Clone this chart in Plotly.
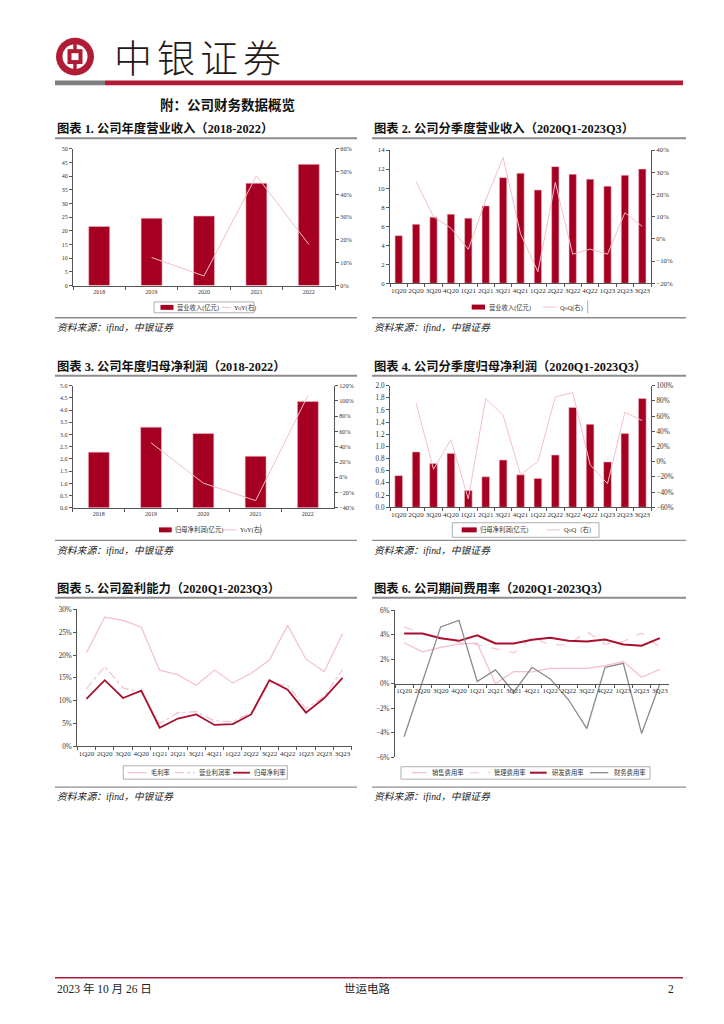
import plotly.graph_objects as go

# The page body has an 8px default margin: the figure is made 8px smaller and
# all positions below are given in page pixels, converted here.
OFF = 8
W, H = 724 - OFF, 1024 - OFF


def X(p):
    return (p - OFF) / W


def Y(p):
    return 1 - (p - OFF) / H


# ---------------- data ----------------
years = ["2018", "2019", "2020", "2021", "2022"]
quarters = ["1Q20", "2Q20", "3Q20", "4Q20", "1Q21", "2Q21", "3Q21", "4Q21",
            "1Q22", "2Q22", "3Q22", "4Q22", "1Q23", "2Q23", "3Q23"]

rev_annual = [21.6, 24.6, 25.4, 37.4, 44.3]
rev_annual_yoy = [None, 12.3, 4.2, 48.1, 18.1]

rev_q = [5.0, 6.2, 6.95, 7.26, 6.84, 8.13, 11.1, 11.56, 9.8, 12.26, 11.46, 10.94, 10.2, 11.35, 12.0]
rev_q_qoq = [None, 25.7, 10.0, 4.8, -4.7, 17.5, 36.6, 2.3, -14.8, 25.4, -6.9, -4.6, -6.9, 11.8, 5.6]

np_annual = [2.28, 3.30, 3.04, 2.11, 4.35]
np_annual_yoy = [None, 45.2, -7.6, -30.5, 107.0]

np_q = [0.52, 0.91, 0.72, 0.886, 0.277, 0.50, 0.777, 0.533, 0.473, 0.859, 1.641, 1.364, 0.745, 1.212, 1.788]
np_q_qoq = [None, 77.0, -10.0, 29.0, -49.0, 83.0, 61.0, -17.0, 0.0, 85.0, 91.0, -4.0, -29.0, 65.0, 54.0]

gross_margin = [20.5, 28.3, 27.6, 26.1, 16.7, 15.7, 13.4, 16.7, 13.9, 16.0, 18.9, 26.5, 19.1, 16.4, 24.7]
op_margin = [12.6, 17.5, 12.8, 11.8, 5.0, 7.4, 7.6, 5.6, 5.4, 7.4, 13.9, 13.4, 8.3, 11.0, 16.8]
net_margin = [10.4, 14.5, 10.6, 12.2, 4.1, 6.1, 7.0, 4.7, 4.9, 7.0, 14.5, 12.4, 7.4, 10.6, 15.0]

sell_ratio = [3.35, 2.62, 2.97, 3.24, 3.32, 0.0, 1.0, 0.97, 1.27, 1.27, 1.27, 1.49, 1.84, 0.54, 1.19]
admin_ratio = [4.65, 4.11, 3.78, 3.38, 3.19, 2.89, 2.54, 3.78, 3.19, 3.19, 4.27, 3.24, 3.46, 4.14, 2.97]
rd_ratio = [4.11, 4.11, 3.73, 3.51, 3.97, 3.30, 3.30, 3.60, 3.76, 3.51, 3.46, 3.62, 3.22, 3.11, 3.73]
fin_ratio = [-4.32, 0.2, 4.65, 5.19, 0.19, 1.14, -0.68, 1.35, 0.4, -1.3, -3.65, 1.35, 1.68, -4.05, 0.0]

# ---------------- styles ----------------
RED = "#A50021"
EDGE = "#F0B8C2"
PINK = "#F4BFC9"
PINK2 = "#F2C3CC"
DARKRED = "#A8102E"
GRAY = "#8A8A8A"
AX = "#555555"
TXT = "#333333"
HEAD_RED = "#B01C35"
SERIF = "Liberation Serif, Noto Sans CJK SC, serif"
CJK = "Noto Sans CJK SC, sans-serif"

fig = go.Figure()

# chart 1
fig.add_trace(go.Bar(x=years, y=rev_annual, width=0.4,
                     marker=dict(color=RED, line=dict(color=EDGE, width=0.6)),
                     xaxis="x", yaxis="y"))
fig.add_trace(go.Scatter(x=years, y=rev_annual_yoy, mode="lines",
                         line=dict(color=PINK, width=1), xaxis="x", yaxis="y7"))
# chart 2
fig.add_trace(go.Bar(x=quarters, y=rev_q, width=0.42,
                     marker=dict(color=RED, line=dict(color=EDGE, width=0.6)),
                     xaxis="x2", yaxis="y2"))
fig.add_trace(go.Scatter(x=quarters, y=rev_q_qoq, mode="lines",
                         line=dict(color=PINK, width=1), xaxis="x2", yaxis="y8"))
# chart 3
fig.add_trace(go.Bar(x=years, y=np_annual, width=0.4,
                     marker=dict(color=RED, line=dict(color=EDGE, width=0.6)),
                     xaxis="x3", yaxis="y3"))
fig.add_trace(go.Scatter(x=years, y=np_annual_yoy, mode="lines",
                         line=dict(color=PINK, width=1), xaxis="x3", yaxis="y9"))
# chart 4
fig.add_trace(go.Bar(x=quarters, y=np_q, width=0.44,
                     marker=dict(color=RED, line=dict(color=EDGE, width=0.6)),
                     xaxis="x4", yaxis="y4"))
fig.add_trace(go.Scatter(x=quarters, y=np_q_qoq, mode="lines",
                         line=dict(color=PINK, width=1), xaxis="x4", yaxis="y10"))
# chart 5
fig.add_trace(go.Scatter(x=quarters, y=gross_margin, mode="lines",
                         line=dict(color=PINK, width=1.2), xaxis="x5", yaxis="y5"))
fig.add_trace(go.Scatter(x=quarters, y=op_margin, mode="lines",
                         line=dict(color=PINK2, width=1.2, dash="dashdot"), xaxis="x5", yaxis="y5"))
fig.add_trace(go.Scatter(x=quarters, y=net_margin, mode="lines",
                         line=dict(color=DARKRED, width=1.8), xaxis="x5", yaxis="y5"))
# chart 6
fig.add_trace(go.Scatter(x=quarters, y=sell_ratio, mode="lines",
                         line=dict(color=PINK, width=1.2), xaxis="x6", yaxis="y6"))
fig.add_trace(go.Scatter(x=quarters, y=admin_ratio, mode="lines",
                         line=dict(color=PINK2, width=1.1, dash="dash"), xaxis="x6", yaxis="y6"))
fig.add_trace(go.Scatter(x=quarters, y=rd_ratio, mode="lines",
                         line=dict(color=DARKRED, width=2), xaxis="x6", yaxis="y6"))
fig.add_trace(go.Scatter(x=quarters, y=fin_ratio, mode="lines",
                         line=dict(color=GRAY, width=1.3), xaxis="x6", yaxis="y6"))


def xax(x0, x1, anchor, n, size, **kw):
    d = dict(domain=[X(x0), X(x1)], anchor=anchor, type="category",
             range=[-0.5, n - 0.5], showline=True, linecolor=AX, linewidth=1,
             ticks="outside", tickson="boundaries", ticklen=3, tickcolor=AX,
             tickangle=0, tickmode="linear", tick0=0, dtick=1,
             tickfont=dict(family=SERIF, size=size, color=TXT),
             showgrid=False, zeroline=False, fixedrange=True)
    d.update(kw)
    return d


def yax(top, bottom, anchor, rng, dtick, size, side="left", overlaying=None,
        suffix="", fmt=None):
    d = dict(domain=[Y(bottom), Y(top)], anchor=anchor, range=rng, dtick=dtick,
             tick0=rng[0], side=side, showline=True, linecolor=AX, linewidth=1,
             ticks="outside", ticklen=3, tickcolor=AX, ticksuffix=suffix,
             tickfont=dict(family=SERIF, size=size, color=TXT),
             showgrid=False, zeroline=False, fixedrange=True)
    if overlaying:
        d["overlaying"] = overlaying
    if fmt:
        d["tickformat"] = fmt
    return d


layout = dict(
    width=W, height=H, margin=dict(l=0, r=0, t=0, b=0),
    paper_bgcolor="white", plot_bgcolor="white", showlegend=False,
    xaxis=xax(73, 335, "y", 5, 6),
    yaxis=yax(146, 284, "x", [0, 50], 5, 6),
    yaxis7=yax(146, 284, "x", [0, 60], 10, 6.3, side="right", overlaying="y", suffix="%"),
    xaxis2=xax(390, 651, "y2", 15, 7),
    yaxis2=yax(147.3, 281.7, "x2", [0, 14], 2, 6.8),
    yaxis8=yax(147.3, 281.7, "x2", [-20, 40], 10, 6.8, side="right", overlaying="y2", suffix="%"),
    xaxis3=xax(72.7, 334, "y3", 5, 6),
    yaxis3=yax(385, 508.3, "x3", [0, 5], 0.5, 6, fmt=".1f"),
    yaxis9=yax(385, 508.3, "x3", [-40, 120], 20, 6.2, side="right", overlaying="y3", suffix="%"),
    xaxis4=xax(390, 651, "y4", 15, 7),
    yaxis4=yax(385, 507.7, "x4", [0, 2], 0.2, 7.2, fmt=".1f"),
    yaxis10=yax(385, 507.7, "x4", [-60, 100], 20, 7.2, side="right", overlaying="y4", suffix="%"),
    xaxis5=xax(77.3, 351.7, "y5", 15, 7),
    yaxis5=yax(610.7, 749, "x5", [0, 30], 5, 7.2, suffix="%"),
    xaxis6=xax(395, 669, "free", 15, 7, position=Y(685.8)),
    yaxis6=yax(611.7, 760, "x6", [-6, 6], 2, 7.2, suffix="%"),
)
fig.update_layout(**layout)

shapes = []
annotations = []


def rect(x0, y0, x1, y1, fill=None, line=None, lw=0):
    shapes.append(dict(type="rect", xref="paper", yref="paper", layer="above",
                       x0=X(x0), x1=X(x1), y0=Y(y1), y1=Y(y0),
                       fillcolor=fill if fill else "rgba(0,0,0,0)",
                       line=dict(color=line if line else "rgba(0,0,0,0)", width=lw)))


def circle(cx, cy, r, fill):
    shapes.append(dict(type="circle", xref="paper", yref="paper", layer="above",
                       x0=X(cx - r), x1=X(cx + r), y0=Y(cy + r), y1=Y(cy - r),
                       fillcolor=fill, line=dict(width=0)))


def seg(x0, y0, x1, y1, color, w, dash="solid"):
    shapes.append(dict(type="line", xref="paper", yref="paper", layer="above",
                       x0=X(x0), x1=X(x1), y0=Y(y0), y1=Y(y1),
                       line=dict(color=color, width=w, dash=dash)))


def text(x, y, s, size, color="#222222", xanchor="left", family=CJK, weight=None):
    f = dict(family=family, size=size, color=color)
    if weight is not None:
        f["weight"] = weight
    annotations.append(dict(xref="paper", yref="paper", x=X(x), y=Y(y), text=s,
                            showarrow=False, xanchor=xanchor, yanchor="middle",
                            font=f))


# ---------------- header ----------------
circle(75, 53, 19, HEAD_RED)
circle(75, 53, 12.5, "white")
rect(73.3, 34.5, 76.7, 71.5, fill=HEAD_RED)
rect(67.5, 45.5, 82.5, 60.5, fill=HEAD_RED)
rect(71.5, 49.5, 78.5, 56.5, fill="white")
for ch, cx in zip(["中", "银", "证", "券"], [133, 176, 219, 262]):
    text(cx, 52, ch, 38, color="#231815", xanchor="center", family=CJK, weight=300)
rect(55, 77, 105, 82, fill="#7F7F7F")
rect(105, 77, 683, 82, fill=HEAD_RED)

text(158, 102, "<b>附：公司财务数据概览</b>", 13.5, color="#111111", family=SERIF)

# ---------------- titles / sources ----------------
titles = [
    (55, 126, "图表 1. 公司年度营业收入（2018-2022）"),
    (372, 126, "图表 2. 公司分季度营业收入（2020Q1-2023Q3）"),
    (55, 366, "图表 3. 公司年度归母净利润（2018-2022）"),
    (372, 366, "图表 4. 公司分季度归母净利润（2020Q1-2023Q3）"),
    (55, 590, "图表 5. 公司盈利能力（2020Q1-2023Q3）"),
    (372, 590, "图表 6. 公司期间费用率（2020Q1-2023Q3）"),
]
for x, y, t in titles:
    text(x, y, "<b>" + t + "</b>", 12.3, color="#111111", family=SERIF)
for y in (135.5, 375, 599):
    seg(55, y, 357, y, "#8C8C8C", 2)
    seg(372, y, 686, y, "#8C8C8C", 2)
for y_line, y_txt in ((316.5, 326), (541, 551), (790, 800)):
    seg(55, y_line, 357, y_line, "#8C8C8C", 1.3)
    seg(372, y_line, 686, y_line, "#8C8C8C", 1.3)
    text(55, y_txt, "<i>资料来源：ifind，中银证券</i>", 9.8, color="#222222", family=SERIF)
    text(372, y_txt, "<i>资料来源：ifind，中银证券</i>", 9.8, color="#222222", family=SERIF)

# ---------------- legends ----------------
LG = "#9A9A9A"
LF = 6.3


def lg_bar(x0, x1, yc):
    rect(x0, yc - 2.5, x1, yc + 2.5, fill=RED)


def lg_line(x0, x1, yc, color, w, dash="solid"):
    seg(x0, yc, x1, yc, color, w, dash)


# chart 1
rect(154, 300.5, 254, 311.5, line=LG, lw=0.8)
lg_bar(160.5, 173.5, 306)
text(175, 306, "营业收入(亿元)", LF, color=TXT, family=SERIF)
lg_line(221.5, 230.5, 306, PINK, 1)
text(232, 306, "YoY(右)", LF, color=TXT, family=SERIF)
# chart 2
seg(587.7, 299, 587.7, 312, LG, 0.8)
lg_bar(471.7, 485, 305.7)
text(487, 305.7, "营业收入(亿元)", LF, color=TXT, family=SERIF)
lg_line(543, 556.7, 305.7, PINK, 1)
text(558, 305.7, "QoQ(右)", LF, color=TXT, family=SERIF)
# chart 3
seg(260.7, 525, 260.7, 536, LG, 0.8)
lg_bar(159, 171.7, 530.5)
text(173, 530.5, "归母净利润(亿元)", LF, color=TXT, family=SERIF)
lg_line(223, 236.7, 530.5, PINK, 1)
text(238, 530.5, "YoY(右)", LF, color=TXT, family=SERIF)
# chart 4
rect(452.3, 523.3, 599, 538, line=LG, lw=0.8)
lg_bar(461.7, 476.7, 530.5)
text(478.5, 530.5, "归母净利润(亿元)", LF, color=TXT, family=SERIF)
lg_line(546.7, 560, 530.5, PINK, 1)
text(562, 530.5, "QoQ（右）", LF, color=TXT, family=SERIF)
# chart 5
rect(123.3, 768.5, 287.3, 782, line=LG, lw=0.8)
lg_line(127.3, 146.7, 775.5, PINK, 1.2)
text(148.5, 775.5, "毛利率", LF, color=TXT, family=SERIF)
lg_line(175, 195, 775.5, PINK2, 1.2, "dashdot")
text(197, 775.5, "营业利润率", LF, color=TXT, family=SERIF)
lg_line(233, 250, 775.5, DARKRED, 1.8)
text(252, 775.5, "归母净利率", LF, color=TXT, family=SERIF)
# chart 6
rect(401, 769.5, 650, 782, line=LG, lw=0.8)
lg_line(411.7, 426.7, 775.5, PINK, 1.2)
text(430, 775.5, "销售费用率", LF, color=TXT, family=SERIF)
lg_line(470, 490, 775.5, PINK2, 1.1, "dash")
text(492, 775.5, "管理费用率", LF, color=TXT, family=SERIF)
lg_line(530, 546.7, 775.5, DARKRED, 2)
text(550, 775.5, "研发费用率", LF, color=TXT, family=SERIF)
lg_line(590, 608.3, 775.5, GRAY, 1.3)
text(611.5, 775.5, "财务费用率", LF, color=TXT, family=SERIF)

# ---------------- footer ----------------
seg(55, 982.5, 683, 982.5, HEAD_RED, 1.5)
text(55, 993.5, "2023 年 10 月 26 日", 11.5, color="#222222", family=SERIF)
text(367, 993.5, "世运电路", 11.5, color="#222222", xanchor="center", family=SERIF)
text(676, 993.5, "2", 11.5, color="#222222", xanchor="right", family=SERIF)

fig.update_layout(shapes=shapes, annotations=annotations)
fig.write_html("out.html")
